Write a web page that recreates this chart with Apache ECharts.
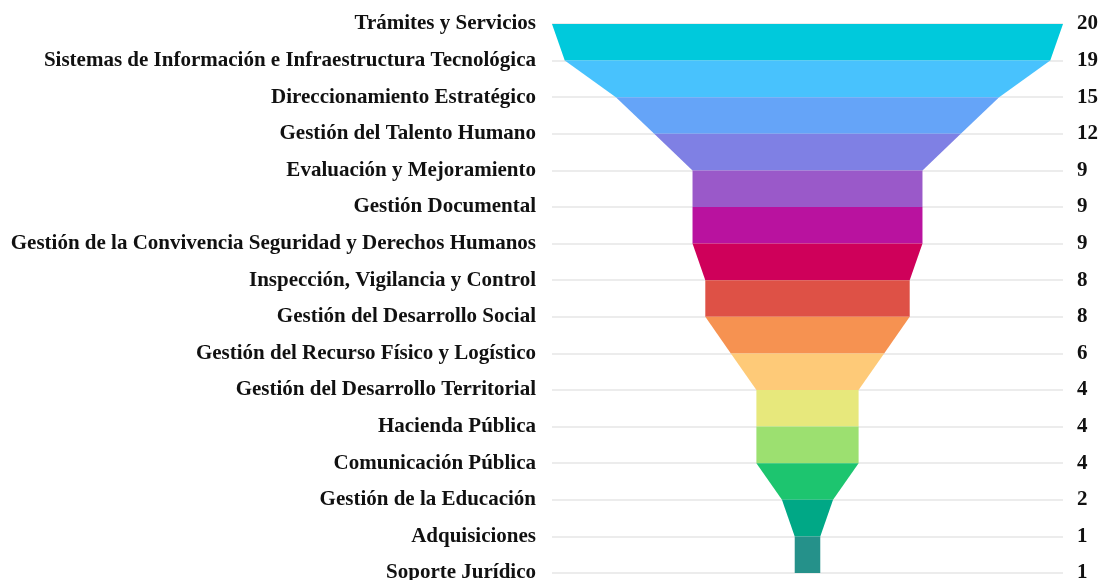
<!DOCTYPE html>
<html>
<head>
<meta charset="utf-8">
<script src="https://cdn.jsdelivr.net/npm/echarts@6/dist/echarts.min.js"></script>
<style>
    html, body { margin: 0; padding: 0; background: #ffffff; }
    #chart { width: 1103px; height: 580px; }
</style>
</head>
<body>
<div id="chart"></div>
<script>
    // procesos y número de trámites
    var procesos = [
        'Trámites y Servicios',
        'Sistemas de Información e Infraestructura Tecnológica',
        'Direccionamiento Estratégico',
        'Gestión del Talento Humano',
        'Evaluación y Mejoramiento',
        'Gestión Documental',
        'Gestión de la Convivencia Seguridad y Derechos Humanos',
        'Inspección, Vigilancia y Control',
        'Gestión del Desarrollo Social',
        'Gestión del Recurso Físico y Logístico',
        'Gestión del Desarrollo Territorial',
        'Hacienda Pública',
        'Comunicación Pública',
        'Gestión de la Educación',
        'Adquisiciones',
        'Soporte Jurídico'
    ];
    var valores = [20, 19, 15, 12, 9, 9, 9, 8, 8, 6, 4, 4, 4, 2, 1, 1];
    var colores = ['#00c9dc', '#48c2fd', '#65a4f8', '#7f80e4', '#9a59c9', '#b9129f',
                   '#cf005a', '#de5146', '#f69251', '#feca78', '#e7e87c', '#9ce070',
                   '#1dc56f', '#00a886', '#25918a'];

    // cada franja va de un proceso al siguiente
    var franjas = [];
    for (var i = 0; i < valores.length - 1; i++) {
        franjas.push([i, valores[i], valores[i + 1]]);
    }

    var fuente = {
        fontFamily: 'Liberation Serif',
        fontWeight: 'bold',
        fontSize: 21,
        color: '#111111'
    };

    var chart = echarts.init(document.getElementById('chart'));
    chart.setOption({
        animation: false,
        grid: { left: 552, right: 40, top: 24, bottom: 7, outerBoundsMode: 'none' },
        xAxis: { type: 'value', min: -10, max: 10, show: false },
        yAxis: [{
            type: 'category',
            data: procesos,
            inverse: true,
            boundaryGap: false,
            position: 'left',
            axisLine: { show: false },
            axisTick: { show: false },
            axisLabel: Object.assign({ margin: 16 }, fuente),
            splitLine: { show: true, lineStyle: { color: '#e6e6e6', width: 1.5 } }
        }, {
            type: 'category',
            data: valores.map(String),
            inverse: true,
            boundaryGap: false,
            position: 'right',
            axisLine: { show: false },
            axisTick: { show: false },
            axisLabel: Object.assign({ margin: 14 }, fuente),
            splitLine: { show: false }
        }],
        series: [{
            type: 'custom',
            data: franjas,
            encode: { x: [1, 2], y: 0 },
            renderItem: function (params, api) {
                var k = api.value(0);
                var a = api.value(1), b = api.value(2);
                var p1 = api.coord([-a / 2, k]);
                var p2 = api.coord([a / 2, k]);
                var p3 = api.coord([b / 2, k + 1]);
                var p4 = api.coord([-b / 2, k + 1]);
                return {
                    type: 'polygon',
                    shape: { points: [p1, p2, p3, p4] },
                    style: { fill: colores[params.dataIndex] }
                };
            }
        }]
    });
</script>
</body>
</html>
